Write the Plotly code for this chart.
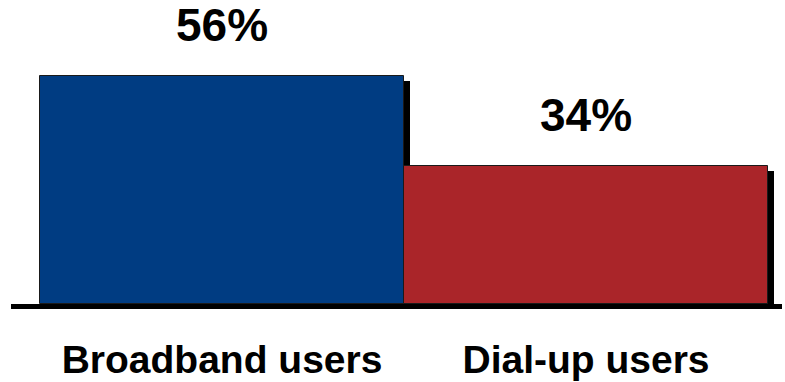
import plotly.graph_objects as go

categories = ["Broadband users", "Dial-up users"]
values = [56, 34]
labels = ["56%", "34%"]
colors = ["#003C82", "#AA2529"]

FONT = "Liberation Sans, Arial, sans-serif"
px_per_unit_x = 363.5
px_per_unit_y = 4.07

fig = go.Figure()

# shadows
fig.add_trace(go.Bar(
    x=categories, y=values,
    base=[-5 / px_per_unit_y] * len(values),
    offset=-0.5 + 6 / px_per_unit_x, width=1,
    marker=dict(color="black", line=dict(width=0)),
    hoverinfo="skip", showlegend=False,
))
# bars
fig.add_trace(go.Bar(
    x=categories, y=values,
    offset=-0.5, width=1,
    marker=dict(color=colors, line=dict(color="#1a1a1a", width=1)),
    showlegend=False,
))

for c, v, t in zip(categories, values, labels):
    fig.add_annotation(x=c, y=v, text=t, showarrow=False, yanchor="middle",
                       yshift=51, font=dict(family=FONT, size=46, color="black", weight="bold"))

fig.update_layout(
    width=785, height=382,
    margin=dict(l=11, r=3, t=0, b=78),
    paper_bgcolor="white", plot_bgcolor="white",
    barmode="overlay", bargap=0,
    xaxis=dict(range=[-0.5 - 29 / px_per_unit_x, 1.5 + 14 / px_per_unit_x],
               showline=True, linecolor="black", linewidth=5, automargin=False,
               showgrid=False, zeroline=False, ticks="", ticklabelstandoff=17,
               tickfont=dict(family=FONT, size=39, color="black", weight="bold")),
    yaxis=dict(range=[0, 304 / px_per_unit_y], visible=False, showgrid=False,
               zeroline=False, automargin=False),
)

fig.write_html("out.html", config={"displayModeBar": False},
               post_script="document.body.style.margin='0';document.body.style.overflow='hidden';")
